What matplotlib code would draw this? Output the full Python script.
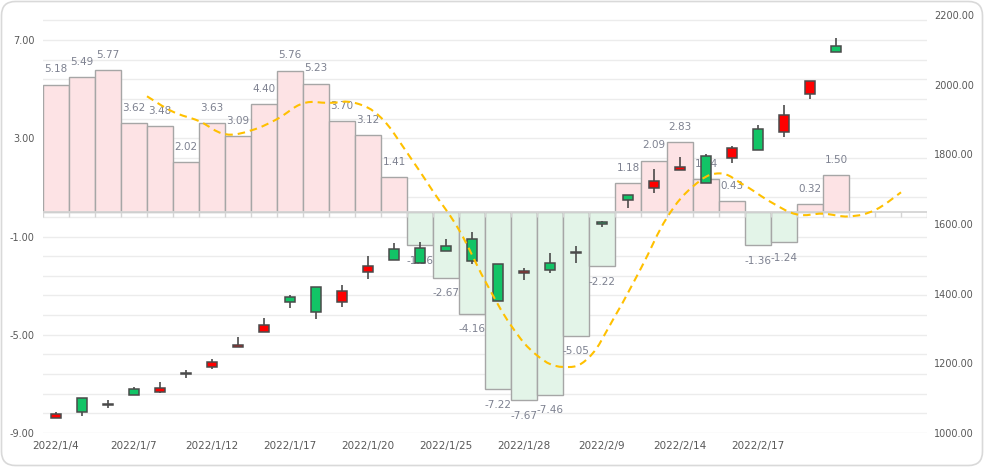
import numpy as np
import matplotlib
matplotlib.use("Agg")
from matplotlib import pyplot as plt
from matplotlib.path import Path
from matplotlib.patches import PathPatch, FancyBboxPatch

# category labels (trading days), last three slots are empty
dates = ["2022/1/4", "2022/1/5", "2022/1/6", "2022/1/7", "2022/1/10", "2022/1/11",
         "2022/1/12", "2022/1/13", "2022/1/14", "2022/1/17", "2022/1/18", "2022/1/19",
         "2022/1/20", "2022/1/21", "2022/1/24", "2022/1/25", "2022/1/26", "2022/1/27",
         "2022/1/28", "2022/2/7", "2022/2/8", "2022/2/9", "2022/2/10", "2022/2/11",
         "2022/2/14", "2022/2/15", "2022/2/16", "2022/2/17", "2022/2/18", "2022/2/21",
         "2022/2/22", "", "", ""]

# bar values (left axis)
change = [5.18, 5.49, 5.77, 3.62, 3.48, 2.02, 3.63, 3.09, 4.40, 5.76, 5.23, 3.70,
          3.12, 1.41, -1.36, -2.67, -4.16, -7.22, -7.67, -7.46, -5.05, -2.22,
          1.18, 2.09, 2.83, 1.34, 0.43, -1.36, -1.24, 0.32, 1.50]

# dashed average line (left axis), starts at category 4
avg_start = 4
avg = [4.71, 4.08, 3.70, 3.17, 3.32, 3.78, 4.42, 4.44, 4.44, 3.84, 2.42, 0.84,
       -0.73, -2.80, -4.62, -5.84, -6.31, -5.92, -4.24, -2.29, -0.23, 1.04,
       1.57, 1.07, 0.40, -0.10, -0.07, -0.18, 0.08, 0.80]

# candlesticks (right axis)
k_open = [1042, 1100, 1083, 1125, 1119, 1172, 1189, 1246, 1291, 1390, 1419, 1375,
          1461, 1527, 1531, 1537, 1556, 1484, 1459, 1487, 1521, 1606, 1682, 1704,
          1756, 1795, 1789, 1873, 1865, 1972, 2111]
k_close = [1054, 1061, 1080, 1110, 1129, 1168, 1204, 1252, 1310, 1377, 1347, 1407,
           1479, 1496, 1489, 1523, 1495, 1380, 1464, 1469, 1518, 1601, 1668, 1724,
           1764, 1717, 1818, 1812, 1914, 2010, 2093]
k_low = [1042, 1050, 1073, 1110, 1116, 1159, 1185, 1246, 1291, 1360, 1326, 1363,
         1443, 1496, 1489, 1523, 1486, 1380, 1439, 1460, 1489, 1592, 1647, 1690,
         1756, 1717, 1776, 1812, 1851, 1960, 2093]
k_high = [1059, 1100, 1095, 1131, 1146, 1180, 1212, 1276, 1329, 1395, 1419, 1425,
          1508, 1546, 1548, 1557, 1577, 1484, 1474, 1518, 1537, 1610, 1682, 1758,
          1793, 1802, 1824, 1884, 1942, 2010, 2134]

label_col = "#595959"
value_col = "#7d8190"

fig = plt.figure(figsize=(9.84, 4.67), dpi=100)
ax = fig.add_axes([43 / 984, 34 / 467, 884 / 984, 418 / 467])
ax2 = ax.twinx()
ax3 = ax.twinx()

n = len(dates)
xs = np.arange(len(change))

# bars
cols = ["#fde3e5" if v >= 0 else "#e3f4e8" for v in change]
ax.bar(xs, change, width=1.0, color=cols, edgecolor="#a6a6a6", linewidth=1.0, zorder=2)
for x, v in zip(xs, change):
    off = 11 if v >= 0 else -11
    ax.annotate(f"{v:.2f}", xy=(x, v), xytext=(0, off), textcoords="offset points",
                ha="center", va="center", fontsize=7.5, color=value_col, zorder=3)

# zero axis with tick marks
ax.axhline(0, color="#d4d4d4", lw=1.3, zorder=2.5)
ax.vlines(np.arange(n + 1) - 0.5, -0.2, 0, color="#d4d4d4", lw=1.0, zorder=2.5)

ax.set_xlim(-0.5, n - 0.5)
ax.set_ylim(-9, 8.02)
ax.set_yticks([-9, -5, -1, 3, 7])
ax.set_yticks(np.arange(-9, 7.9, 0.8), minor=True)
ax.set_yticklabels([f"{t:.2f}" for t in [-9, -5, -1, 3, 7]])
ax.grid(True, which="both", axis="y", color="#ececec", lw=1.0, zorder=0)
ax.set_axisbelow(True)
ax.tick_params(axis="y", which="both", length=0, pad=6, labelsize=7, labelcolor=label_col)
ax.set_xticks(range(0, 30, 3))
ax.set_xticklabels([dates[i] for i in range(0, 30, 3)])
ax.tick_params(axis="x", length=0, pad=6, labelsize=7.5, labelcolor=label_col)

# candlesticks
ax2.set_ylim(1000, 2200)
ax2.set_yticks(np.arange(1000, 2201, 200))
ax2.set_yticklabels([f"{t:.2f}" for t in np.arange(1000, 2201, 200)])
ax2.tick_params(axis="y", length=0, pad=5, labelsize=7, labelcolor=label_col)
o = np.array(k_open)
c = np.array(k_close)
up = c > o
kcol = np.where(up, "#ff0000", "#12c466")
ax2.vlines(xs, k_low, k_high, color="#3c3c3c", lw=1.1, zorder=3)
body = np.maximum(np.abs(c - o), 3)
ax2.bar(xs, body, bottom=np.minimum(o, c), width=0.42, color=kcol,
        edgecolor="#4a4a4a", linewidth=1.1, zorder=4)

# smooth dashed line
ax3.set_ylim(ax.get_ylim())
ax3.axis("off")
lx = np.arange(avg_start, avg_start + len(avg)) - 0.5
ly = np.array(avg)
pts = np.column_stack([lx, ly])
verts = [pts[0]]
codes = [Path.MOVETO]
t = 0.2
for i in range(len(pts) - 1):
    p0 = pts[max(i - 1, 0)]
    p1 = pts[i]
    p2 = pts[i + 1]
    p3 = pts[min(i + 2, len(pts) - 1)]
    verts += [p1 + (p2 - p0) * t, p2 - (p3 - p1) * t, p2]
    codes += [Path.CURVE4] * 3
ax3.add_patch(PathPatch(Path(verts, codes), fill=False, edgecolor="#ffc000",
                        lw=1.5, linestyle=(0, (3.6, 2.4)), zorder=5))

for a in (ax, ax2, ax3):
    for s in a.spines.values():
        s.set_visible(False)

fig.add_artist(FancyBboxPatch((1.5, 1.5), 981, 464, boxstyle="round,pad=0,rounding_size=14",
                              transform=None, fill=False, edgecolor="#d9d9d9", lw=1.2))

fig.savefig("out.png", dpi=100)
